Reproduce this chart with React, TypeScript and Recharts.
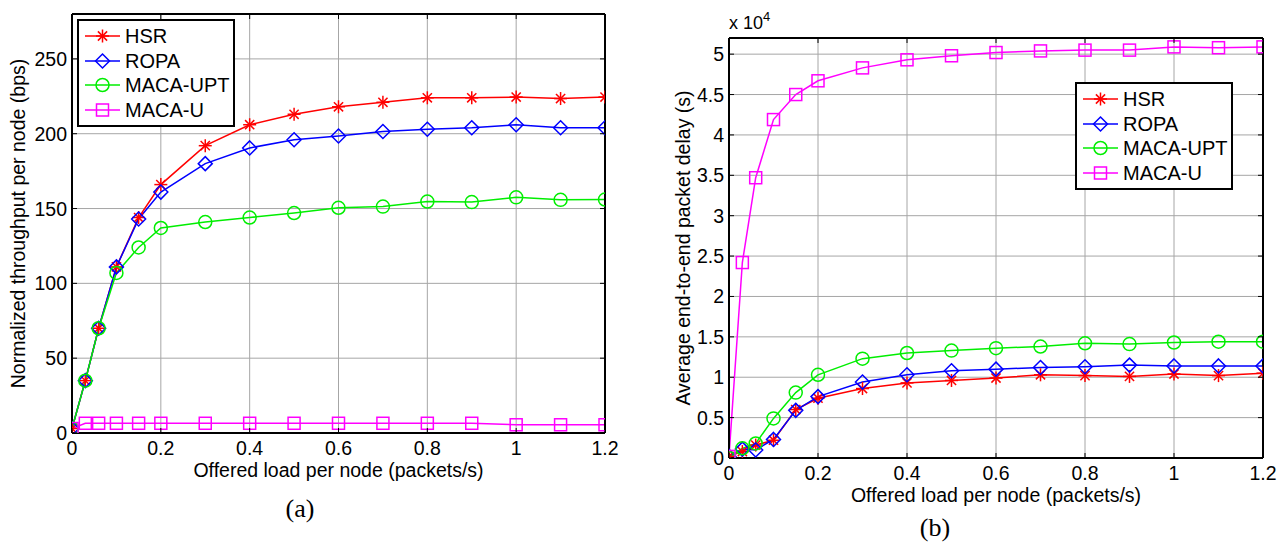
import React from 'react';
import { LineChart, Line, XAxis, YAxis, CartesianGrid, Legend } from 'recharts';

// offered load per node (packets/s)
const loads = [0, 0.03, 0.06, 0.1, 0.15, 0.2, 0.3, 0.4, 0.5, 0.6, 0.7, 0.8, 0.9, 1.0, 1.1, 1.2];

// (a) normalized throughput per node (bps)
const hsrThroughput = [3, 35, 70, 111, 144, 166, 192, 206, 213, 218, 221, 224, 224, 224.5, 223.5, 224.5];
const ropaThroughput = [3, 35, 70, 111, 143, 161, 180, 190.5, 196, 198.5, 201.5, 203, 204, 206, 204, 204];
const uptThroughput = [3, 35, 70, 107, 124, 137, 141, 144, 147, 150.5, 151.3, 154.7, 154.3, 157.5, 155.8, 156];
const macaUThroughput = [3, 6.5, 6.5, 6.5, 6.5, 6.5, 6.5, 6.5, 6.5, 6.5, 6.5, 6.5, 6.5, 5.5, 5.5, 5.5];

// (b) average end-to-end packet delay (s)
const hsrDelay = [200, 800, 1600, 2200, 6000, 7400, 8600, 9300, 9600, 9900, 10300, 10200, 10100, 10400, 10200, 10500];
const ropaDelay = [200, 1100, 1000, 2300, 5900, 7600, 9400, 10300, 10800, 11000, 11200, 11300, 11500, 11400, 11400, 11400];
const uptDelay = [0, 1200, 1800, 4900, 8100, 10300, 12300, 13000, 13300, 13600, 13800, 14200, 14100, 14300, 14400, 14400];
const macaUDelay = [200, 24200, 34700, 41900, 45000, 46700, 48300, 49300, 49800, 50200, 50400, 50500, 50500, 50900, 50800, 50900];

const xTicks = [0, 0.2, 0.4, 0.6, 0.8, 1, 1.2];
const throughputTicks = [0, 50, 100, 150, 200, 250];
const delayTicks = [0, 5000, 10000, 15000, 20000, 25000, 30000, 35000, 40000, 45000, 50000];

const series = [
  { key: 'hsr', name: 'HSR', color: '#ff0000', marker: 'star' },
  { key: 'ropa', name: 'ROPA', color: '#0000ff', marker: 'diamond' },
  { key: 'upt', name: 'MACA-UPT', color: '#00ee00', marker: 'circle' },
  { key: 'macau', name: 'MACA-U', color: '#ff00ff', marker: 'square' },
];

const throughputData = loads.map((x, i) => ({
  x,
  hsr: hsrThroughput[i],
  ropa: ropaThroughput[i],
  upt: uptThroughput[i],
  macau: macaUThroughput[i],
}));

const delayData = loads.map((x, i) => ({
  x,
  hsr: hsrDelay[i],
  ropa: ropaDelay[i],
  upt: uptDelay[i],
  macau: macaUDelay[i],
}));

const FONT = 'Arial, "Liberation Sans", sans-serif';
const FS = 19.5;

const Marker = ({ type, cx, cy, color }: any) => {
  const s = 1.5;
  if (type === 'star') {
    const r = 6.5;
    const d = r * 0.7071;
    return (
      <g stroke={color} strokeWidth={s}>
        <line x1={cx - r} y1={cy} x2={cx + r} y2={cy} />
        <line x1={cx} y1={cy - r} x2={cx} y2={cy + r} />
        <line x1={cx - d} y1={cy - d} x2={cx + d} y2={cy + d} />
        <line x1={cx - d} y1={cy + d} x2={cx + d} y2={cy - d} />
      </g>
    );
  }
  if (type === 'diamond') {
    const r = 7;
    return (
      <polygon
        points={`${cx},${cy - r} ${cx + r},${cy} ${cx},${cy + r} ${cx - r},${cy}`}
        fill="none"
        stroke={color}
        strokeWidth={s}
      />
    );
  }
  if (type === 'circle') {
    return <circle cx={cx} cy={cy} r={6.5} fill="none" stroke={color} strokeWidth={s} />;
  }
  return <rect x={cx - 6} y={cy - 6} width={12} height={12} fill="none" stroke={color} strokeWidth={s} />;
};

const makeDot = (marker: string, color: string) => (props: any) => {
  const { cx, cy, index } = props;
  if (cx == null || cy == null) return <g key={index} />;
  return (
    <g key={`${marker}-${index}`}>
      <Marker type={marker} cx={cx} cy={cy} color={color} />
    </g>
  );
};

const LegendBox = () => (
  <div
    style={{
      width: 154,
      border: '2px solid #000',
      background: '#fff',
      padding: '3px 0 3px 0',
      fontFamily: FONT,
      fontSize: 20,
      color: '#000',
    }}
  >
    {series.map((s) => (
      <div key={s.key} style={{ display: 'flex', alignItems: 'center', height: 24.5 }}>
        <svg width={46} height={20} style={{ flex: 'none' }}>
          <line x1={6} y1={10} x2={41} y2={10} stroke={s.color} strokeWidth={1.5} />
          <Marker type={s.marker} cx={23.5} cy={10} color={s.color} />
        </svg>
        <span style={{ lineHeight: '20px' }}>{s.name}</span>
      </div>
    ))}
  </div>
);

const BottomTick = (props: any) => {
  const { x, y, payload, format } = props;
  return (
    <g>
      <line x1={x} y1={y} x2={x} y2={y - 5} stroke="#000" strokeWidth={1} />
      <text x={x} y={y + 22} textAnchor="middle" fontSize={FS} fontFamily={FONT} fill="#000">
        {format(payload.value)}
      </text>
    </g>
  );
};

const TopTick = ({ x, y }: any) => <line x1={x} y1={y} x2={x} y2={y + 5} stroke="#000" strokeWidth={1} />;

const LeftTick = (props: any) => {
  const { x, y, payload, format } = props;
  return (
    <g>
      <line x1={x} y1={y} x2={x + 5} y2={y} stroke="#000" strokeWidth={1} />
      <text x={x - 5} y={y} dy="0.36em" textAnchor="end" fontSize={FS} fontFamily={FONT} fill="#000">
        {format(payload.value)}
      </text>
    </g>
  );
};

const RightTick = ({ x, y }: any) => <line x1={x} y1={y} x2={x - 5} y2={y} stroke="#000" strokeWidth={1} />;

const axisLine = { stroke: '#000', strokeWidth: 2 };
const titleStyle = { fontSize: FS, fontFamily: FONT, fill: '#000' };

interface PanelProps {
  data: any[];
  width: number;
  height: number;
  margin: { top: number; right: number; bottom: number; left: number };
  yMax: number;
  yTicks: number[];
  yFormat: (v: number) => string;
  yTitle: string;
  yTitleOffset: number;
  legendPos: { left: number; top: number };
}

const Panel = ({ data, width, height, margin, yMax, yTicks, yFormat, yTitle, yTitleOffset, legendPos }: PanelProps) => (
  <LineChart width={width} height={height} data={data} margin={margin}>
    <CartesianGrid stroke="#a6a6a6" strokeWidth={1} />
    <XAxis
      dataKey="x"
      type="number"
      domain={[0, 1.2]}
      ticks={xTicks}
      allowDataOverflow
      height={30}
      tickSize={0}
      tickMargin={0}
      axisLine={axisLine}
      tickLine={false}
      tick={(p: any) => <BottomTick {...p} format={(v: number) => String(v)} />}
      interval={0}
      label={{ value: 'Offered load per node (packets/s)', position: 'insideTop', offset: 30, style: titleStyle }}
    />
    <XAxis
      xAxisId="top"
      dataKey="x"
      orientation="top"
      type="number"
      domain={[0, 1.2]}
      ticks={xTicks}
      allowDataOverflow
      height={1}
      tickSize={0}
      tickMargin={0}
      axisLine={axisLine}
      tickLine={false}
      tick={(p: any) => <TopTick {...p} />}
      interval={0}
    />
    <YAxis
      type="number"
      domain={[0, yMax]}
      ticks={yTicks}
      allowDataOverflow
      width={60}
      tickSize={0}
      tickMargin={0}
      axisLine={axisLine}
      tickLine={false}
      tick={(p: any) => <LeftTick {...p} format={yFormat} />}
      interval={0}
      label={{
        value: yTitle,
        angle: -90,
        position: 'insideRight',
        offset: yTitleOffset,
        style: { ...titleStyle, textAnchor: 'middle' },
      }}
    />
    <YAxis
      yAxisId="right"
      orientation="right"
      type="number"
      domain={[0, yMax]}
      ticks={yTicks}
      allowDataOverflow
      width={1}
      tickSize={0}
      tickMargin={0}
      axisLine={axisLine}
      tickLine={false}
      tick={(p: any) => <RightTick {...p} />}
      interval={0}
    />
    <Legend
      layout="vertical"
      align="center"
      verticalAlign="middle"
      wrapperStyle={{ left: legendPos.left, top: legendPos.top, width: 'auto', height: 'auto' }}
      content={() => <LegendBox />}
    />
    {series.map((s) => (
      <Line
        key={s.key}
        type="linear"
        dataKey={s.key}
        name={s.name}
        stroke={s.color}
        strokeWidth={1.5}
        dot={makeDot(s.marker, s.color)}
        activeDot={false}
        isAnimationActive={false}
      />
    ))}
  </LineChart>
);

const caption = {
  position: 'absolute' as const,
  fontFamily: '"Times New Roman", "Liberation Serif", serif',
  fontSize: 26,
  color: '#000',
  transform: 'translateX(-50%)',
  lineHeight: '30px',
};

export default function App() {
  return (
    <div style={{ position: 'absolute', left: 0, top: 0, width: 1285, height: 544, background: '#fff', overflow: 'hidden' }}>
      <div style={{ position: 'absolute', left: 0, top: 0 }}>
        <Panel
          data={throughputData}
          width={660}
          height={544}
          margin={{ top: 13, right: 54, bottom: 81, left: 12 }}
          yMax={280}
          yTicks={throughputTicks}
          yFormat={(v) => String(v)}
          yTitle="Normalized throughput per node (bps)"
          yTitleOffset={54}
          legendPos={{ left: 77, top: 19 }}
        />
      </div>
      <div style={{ position: 'absolute', left: 660, top: 0 }}>
        <Panel
          data={delayData}
          width={625}
          height={544}
          margin={{ top: 37, right: 21, bottom: 56, left: 9 }}
          yMax={52000}
          yTicks={delayTicks}
          yFormat={(v) => String(v / 10000)}
          yTitle="Average end-to-end packet delay (s)"
          yTitleOffset={46}
          legendPos={{ left: 415, top: 82 }}
        />
      </div>
      <div style={{ position: 'absolute', left: 729, top: 12, fontFamily: FONT, fontSize: 18, color: '#000', lineHeight: '22px' }}>
        x 10<sup style={{ fontSize: 13, verticalAlign: 'top', position: 'relative', top: -6 }}>4</sup>
      </div>
      <div style={{ ...caption, left: 300, top: 494 }}>(a)</div>
      <div style={{ ...caption, left: 935, top: 513 }}>(b)</div>
    </div>
  );
}
